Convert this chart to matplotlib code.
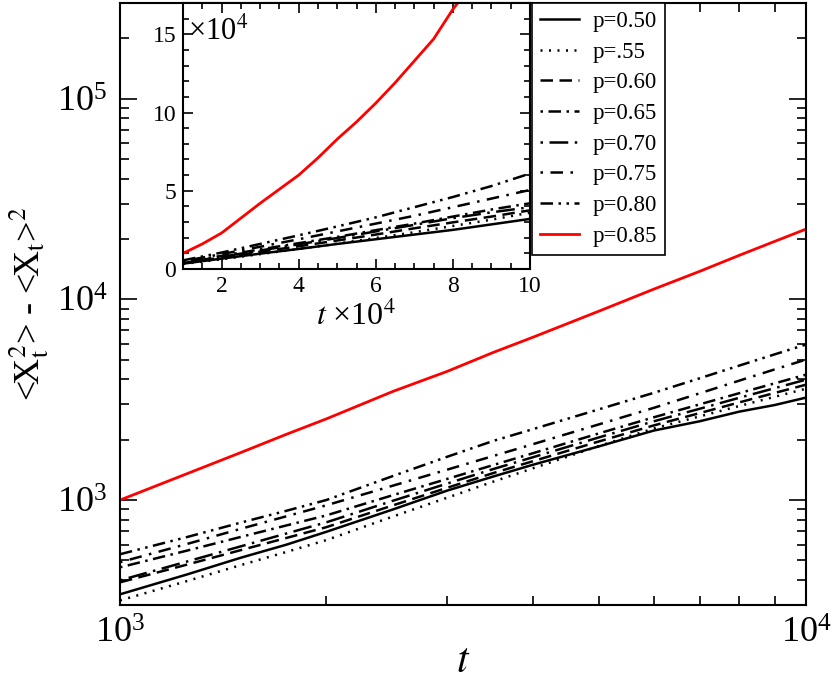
import numpy as np
import matplotlib
matplotlib.use('Agg')
import matplotlib.pyplot as plt
from matplotlib.ticker import MultipleLocator, NullFormatter, LogLocator

plt.rcParams['font.family'] = ['Liberation Serif', 'DejaVu Serif']
plt.rcParams['mathtext.fontset'] = 'stix'

# main panel: t from 10^3 to 10^4
t_main = [1000, 1250, 1500, 1750, 2000, 2500, 3000, 3500, 4000, 5000, 6000, 7000, 8000, 9000, 10000]
p50 = [339, 425, 516, 600, 695, 898, 1115, 1310, 1500, 1855, 2220, 2470, 2760, 2975, 3240]
p55 = [316, 394, 474, 552, 632, 828, 1028, 1235, 1440, 1862, 2274, 2612, 2944, 3269, 3589]
p60 = [389, 476, 563, 648, 733, 941, 1152, 1363, 1562, 1963, 2355, 2713, 3069, 3417, 3758]
p65 = [462, 559, 655, 748, 839, 1058, 1275, 1494, 1712, 2153, 2585, 2999, 3412, 3815, 4217]
p70 = [398, 493, 588, 682, 775, 992, 1209, 1427, 1635, 2056, 2469, 2851, 3236, 3610, 3981]
p75 = [490, 603, 719, 831, 942, 1180, 1418, 1658, 1899, 2388, 2881, 3404, 3940, 4477, 5012]
p80 = [537, 653, 772, 885, 1001, 1318, 1644, 1971, 2257, 2838, 3423, 4046, 4683, 5321, 5957]
p85 = [1000, 1350, 1725, 2130, 2540, 3480, 4380, 5440, 6480, 8760, 11250, 13800, 16600, 19450, 22400]

# inset: t and variance both in units of 10^4
t_in = [1, 2, 3, 4, 5, 6, 7, 8, 9, 10]
in50 = [0.34, 0.66, 0.98, 1.28, 1.60, 1.90, 2.20, 2.50, 2.85, 3.20]
in55 = [0.32, 0.62, 0.95, 1.28, 1.62, 1.98, 2.35, 2.75, 3.15, 3.60]
in60 = [0.38, 0.73, 1.10, 1.45, 1.82, 2.20, 2.60, 2.98, 3.35, 3.75]
in65 = [0.45, 0.84, 1.25, 1.65, 2.05, 2.48, 2.90, 3.35, 3.80, 4.20]
in70 = [0.40, 0.78, 1.18, 1.58, 1.98, 2.40, 2.82, 3.25, 3.62, 3.95]
in75 = [0.50, 0.95, 1.42, 1.90, 2.40, 2.90, 3.40, 3.95, 4.50, 5.05]
in80 = [0.55, 1.05, 1.60, 2.15, 2.72, 3.30, 3.95, 4.60, 5.30, 6.10]
t_in85 = [1, 1.5, 2, 2.5, 3, 3.5, 4, 4.5, 5, 5.5, 6, 6.5, 7, 7.5, 8, 8.5]
in85 = [1.0, 1.6, 2.3, 3.25, 4.2, 5.1, 6.0, 7.1, 8.3, 9.4, 10.6, 11.9, 13.3, 14.7, 16.6, 18.2]

labels = ['p=0.50', 'p=.55', 'p=0.60', 'p=0.65', 'p=0.70', 'p=0.75', 'p=0.80', 'p=0.85']
main_data = [p50, p55, p60, p65, p70, p75, p80]
inset_data = [in50, in55, in60, in65, in70, in75, in80]
# dash patterns (in units of line width)
dashes = [None, (0.8, 2.6), (5, 2.6), (1, 2.2, 5, 2.2), (1, 2.6, 7.5, 2.6),
          (1, 3, 5, 3), (5, 2.2, 1, 2.2, 1, 2.2)]

lw = 1.8
fig = plt.figure(figsize=(8.32, 6.86), dpi=100)
ax = fig.add_axes([0.1442, 0.1181, 0.8245, 0.8775])

for y, d, lab in zip(main_data, dashes, labels):
    if d is None:
        ax.plot(t_main, y, color='black', lw=lw, label=lab)
    else:
        ax.plot(t_main, y, color='black', lw=lw, dashes=d, label=lab)
ax.plot(t_main, p85, color='red', lw=lw + 0.2, label=labels[-1])

ax.set_xscale('log')
ax.set_yscale('log')
ax.set_xlim(1e3, 1e4)
ax.set_ylim(300, 3e5)
ax.xaxis.set_minor_formatter(NullFormatter())
ax.yaxis.set_minor_formatter(NullFormatter())
ax.yaxis.set_major_locator(LogLocator(base=10, numticks=10))
ax.tick_params(which='both', direction='in', top=True, right=True, width=1.2, labelsize=26)
ax.tick_params(which='major', length=12, pad=9)
ax.tick_params(which='minor', length=6.5)
for s in ax.spines.values():
    s.set_linewidth(1.5)
ax.set_xlabel('$t$', fontsize=30, labelpad=-6)
ax.set_ylabel('<X$_\\mathrm{t}^\\mathrm{2}$> - <X$_\\mathrm{t}$>$^\\mathrm{2}$', fontsize=26, labelpad=4)

leg = ax.legend(loc='upper left', bbox_to_anchor=(0.639, 0.9956), bbox_transform=fig.transFigure,
                fontsize=16.5, frameon=True, fancybox=False, edgecolor='black', framealpha=1,
                handlelength=1.7, handletextpad=0.6, labelspacing=0.42, borderpad=0.35,
                borderaxespad=0)
leg.get_frame().set_linewidth(1.2)

# inset
axi = fig.add_axes([0.22, 0.6079, 0.417, 0.3877])
for y, d in zip(inset_data, dashes):
    if d is None:
        axi.plot(t_in, y, color='black', lw=lw)
    else:
        axi.plot(t_in, y, color='black', lw=lw, dashes=d)
axi.plot(t_in85, in85, color='red', lw=lw + 0.2)
axi.set_xlim(1, 10)
axi.set_ylim(0, 17)
axi.xaxis.set_major_locator(MultipleLocator(2))
axi.xaxis.set_minor_locator(MultipleLocator(0.5))
axi.yaxis.set_major_locator(MultipleLocator(5))
axi.yaxis.set_minor_locator(MultipleLocator(1))
axi.tick_params(which='both', direction='in', top=True, right=True, width=1.2, labelsize=17)
axi.tick_params(which='major', length=7, pad=5)
axi.tick_params(which='minor', length=4)
for s in axi.spines.values():
    s.set_linewidth(1.5)
axi.set_xlabel('$t$ ×10$^4$', fontsize=23, labelpad=3)
axi.text(0.015, 0.95, '×10$^4$', transform=axi.transAxes, fontsize=22, va='top', ha='left')

fig.savefig('out.png', dpi=100)
